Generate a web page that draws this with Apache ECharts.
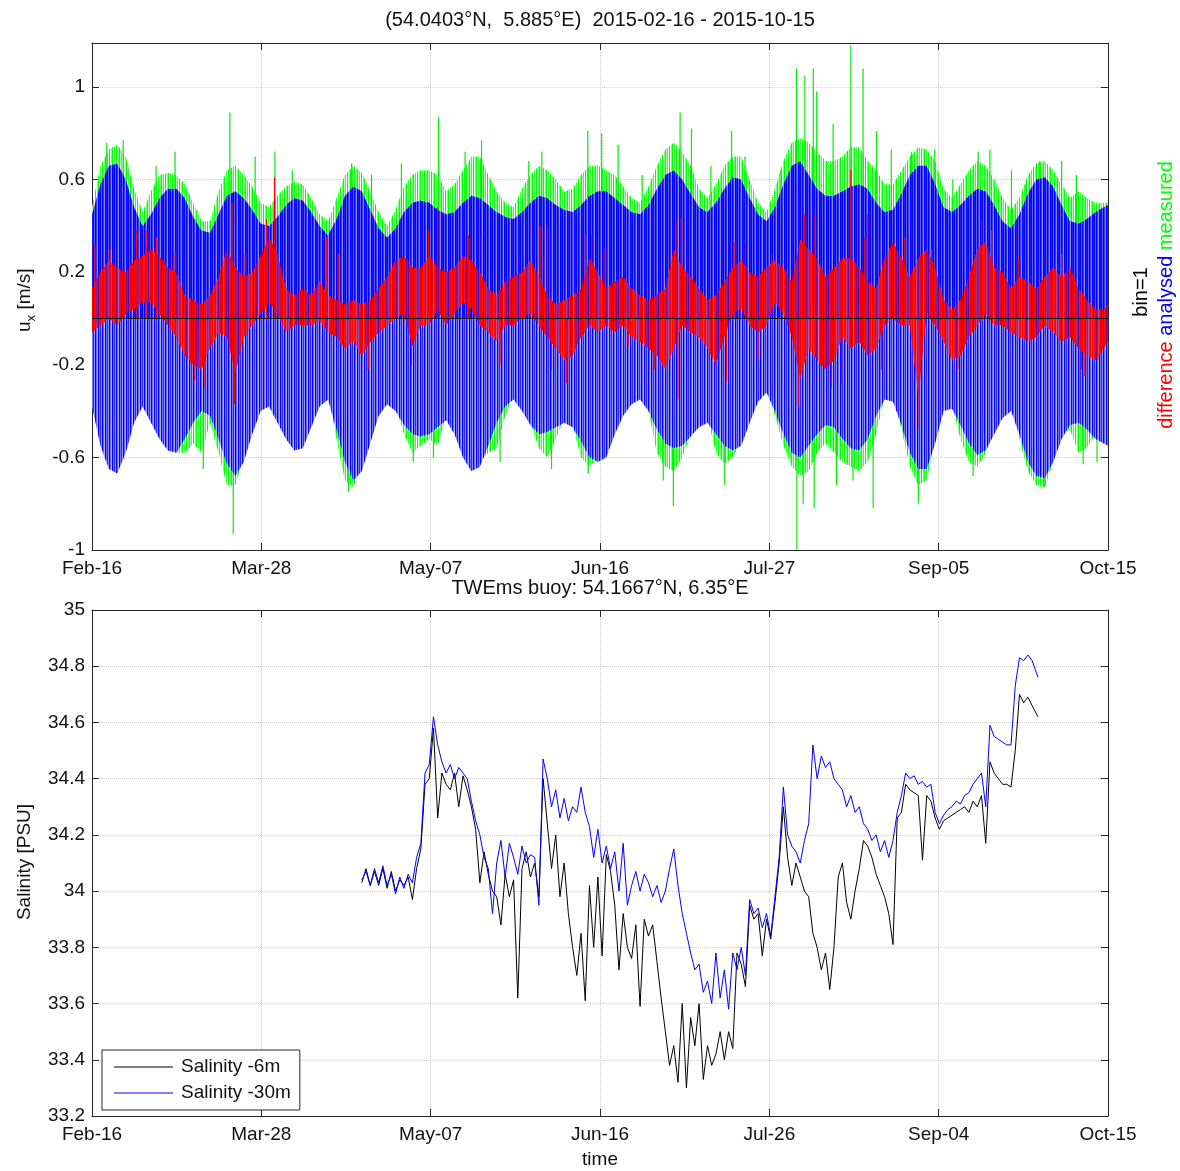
<!DOCTYPE html>
<html><head><meta charset="utf-8">
<script src="https://cdn.jsdelivr.net/npm/echarts@6/dist/echarts.min.js"></script>
<style>html,body{margin:0;padding:0;background:#fff}#c{width:1180px;height:1171px}</style>
</head><body><div id="c"></div>
<script>
// ---------- tick labels ----------
const topXLabels = ['Feb-16','Mar-28','May-07','Jun-16','Jul-27','Sep-05','Oct-15'];
const botXLabels = ['Feb-16','Mar-28','May-07','Jun-16','Jul-26','Sep-04','Oct-15'];
const uTickLabels = ['-1','-0.6','-0.2','0.2','0.6','1'];
const salTickLabels = ['33.2','33.4','33.6','33.8','34','34.2','34.4','34.6','34.8','35'];
const SPAN = 241; // days from 2015-02-16 to 2015-10-15

// ---------- top panel: envelopes of u_x (days since Feb-16) ----------
const uDays = [0,2,4,6,8,10,12,14,16,18,20,22,24,26,28,30,32,34,36,38,40,42,44,46,48,50,52,54,56,58,
60,62,64,66,68,70,72,74,76,78,80,82,84,86,88,90,92,94,96,98,100,102,104,106,108,110,112,114,116,118,
120,122,124,126,128,130,132,134,136,138,140,142,144,146,148,150,152,154,156,158,160,162,164,166,168,170,172,174,176,178,
180,182,184,186,188,190,192,194,196,198,200,202,204,206,208,210,212,214,216,218,220,222,224,226,228,230,232,234,236,238,240,241];
const analysedUpper = [0.45,0.58,0.66,0.67,0.60,0.48,0.40,0.45,0.52,0.56,
0.56,0.52,0.44,0.38,0.37,0.45,0.53,0.55,0.52,0.47,
0.41,0.40,0.44,0.49,0.52,0.51,0.46,0.40,0.36,0.43,
0.53,0.57,0.55,0.47,0.39,0.35,0.39,0.46,0.50,0.51,
0.50,0.47,0.45,0.46,0.50,0.53,0.52,0.49,0.46,0.44,
0.43,0.46,0.50,0.53,0.52,0.49,0.47,0.46,0.49,0.53,
0.55,0.55,0.52,0.49,0.46,0.45,0.49,0.56,0.62,0.64,
0.60,0.54,0.48,0.46,0.50,0.56,0.61,0.60,0.52,0.45,
0.42,0.48,0.58,0.66,0.68,0.62,0.56,0.53,0.53,0.55,
0.57,0.58,0.56,0.50,0.46,0.47,0.54,0.62,0.66,0.66,
0.58,0.48,0.46,0.49,0.53,0.56,0.55,0.49,0.42,0.39,
0.45,0.54,0.60,0.61,0.57,0.49,0.42,0.41,0.43,0.46,
0.48,0.49];
const analysedLower = [-0.38,-0.55,-0.65,-0.67,-0.58,-0.45,-0.38,-0.45,-0.52,-0.57,
-0.58,-0.52,-0.45,-0.40,-0.42,-0.52,-0.63,-0.68,-0.62,-0.50,
-0.40,-0.38,-0.45,-0.52,-0.57,-0.56,-0.47,-0.38,-0.35,-0.48,
-0.62,-0.70,-0.66,-0.54,-0.42,-0.37,-0.40,-0.46,-0.50,-0.51,
-0.50,-0.47,-0.44,-0.50,-0.60,-0.66,-0.64,-0.55,-0.45,-0.38,
-0.35,-0.40,-0.46,-0.50,-0.49,-0.47,-0.45,-0.47,-0.53,-0.60,
-0.62,-0.60,-0.50,-0.42,-0.37,-0.35,-0.40,-0.48,-0.54,-0.56,
-0.55,-0.51,-0.47,-0.45,-0.50,-0.55,-0.57,-0.55,-0.45,-0.36,
-0.32,-0.40,-0.50,-0.58,-0.60,-0.55,-0.50,-0.46,-0.47,-0.52,
-0.56,-0.57,-0.52,-0.42,-0.35,-0.36,-0.46,-0.58,-0.65,-0.65,
-0.54,-0.40,-0.39,-0.46,-0.54,-0.59,-0.57,-0.50,-0.43,-0.40,
-0.50,-0.62,-0.68,-0.69,-0.62,-0.52,-0.46,-0.45,-0.48,-0.52,
-0.54,-0.55];
const measuredUpper = [0.48,0.66,0.73,0.75,0.70,0.56,0.46,0.55,0.62,0.63,
0.62,0.58,0.50,0.42,0.42,0.55,0.64,0.66,0.62,0.57,
0.50,0.48,0.53,0.57,0.59,0.58,0.52,0.45,0.42,0.52,
0.62,0.66,0.63,0.55,0.46,0.40,0.47,0.57,0.62,0.64,
0.64,0.62,0.55,0.58,0.64,0.70,0.70,0.62,0.55,0.50,
0.48,0.56,0.62,0.66,0.64,0.60,0.55,0.56,0.62,0.66,
0.66,0.64,0.62,0.57,0.52,0.50,0.57,0.66,0.73,0.76,
0.72,0.66,0.56,0.52,0.58,0.66,0.70,0.70,0.60,0.50,
0.46,0.56,0.68,0.76,0.78,0.76,0.72,0.68,0.68,0.70,
0.74,0.74,0.68,0.64,0.58,0.58,0.64,0.70,0.74,0.73,
0.68,0.56,0.52,0.58,0.64,0.68,0.66,0.60,0.52,0.47,
0.52,0.62,0.67,0.68,0.64,0.58,0.52,0.55,0.52,0.50,
0.50,0.50];
const measuredLower = [-0.32,-0.50,-0.60,-0.62,-0.55,-0.42,-0.35,-0.43,-0.50,-0.55,
-0.58,-0.58,-0.54,-0.58,-0.45,-0.58,-0.72,-0.72,-0.60,-0.48,
-0.37,-0.35,-0.42,-0.50,-0.54,-0.53,-0.44,-0.35,-0.33,-0.52,
-0.70,-0.73,-0.62,-0.50,-0.39,-0.34,-0.38,-0.50,-0.58,-0.55,
-0.52,-0.55,-0.42,-0.48,-0.57,-0.63,-0.62,-0.58,-0.56,-0.42,
-0.33,-0.38,-0.45,-0.56,-0.60,-0.52,-0.43,-0.46,-0.60,-0.64,
-0.60,-0.58,-0.48,-0.40,-0.35,-0.33,-0.40,-0.58,-0.64,-0.66,
-0.60,-0.50,-0.45,-0.43,-0.58,-0.63,-0.60,-0.53,-0.43,-0.34,
-0.30,-0.42,-0.55,-0.64,-0.68,-0.66,-0.58,-0.54,-0.58,-0.62,
-0.64,-0.66,-0.62,-0.50,-0.34,-0.34,-0.48,-0.64,-0.72,-0.70,
-0.52,-0.38,-0.37,-0.52,-0.62,-0.64,-0.58,-0.48,-0.41,-0.38,
-0.52,-0.66,-0.72,-0.73,-0.62,-0.50,-0.48,-0.58,-0.56,-0.50,
-0.52,-0.52];
const differenceUpper = [0.13,0.20,0.25,0.22,0.20,0.25,0.27,0.30,0.27,0.22,
0.20,0.10,0.08,0.06,0.10,0.18,0.30,0.22,0.18,0.20,
0.27,0.35,0.28,0.13,0.10,0.13,0.10,0.16,0.10,0.08,
0.06,0.08,0.06,0.08,0.13,0.18,0.25,0.27,0.22,0.22,
0.27,0.22,0.20,0.22,0.27,0.25,0.20,0.13,0.10,0.16,
0.18,0.20,0.25,0.18,0.10,0.06,0.08,0.10,0.13,0.26,
0.20,0.13,0.16,0.18,0.13,0.10,0.08,0.10,0.13,0.30,
0.22,0.18,0.13,0.08,0.10,0.16,0.22,0.25,0.20,0.18,
0.22,0.25,0.22,0.16,0.34,0.30,0.26,0.18,0.22,0.26,
0.26,0.22,0.16,0.13,0.26,0.33,0.26,0.18,0.26,0.30,
0.22,0.08,0.04,0.08,0.18,0.30,0.33,0.22,0.20,0.13,
0.18,0.16,0.13,0.18,0.22,0.18,0.22,0.13,0.08,0.04,
0.04,0.06];
const differenceLower = [-0.06,-0.03,0.00,-0.03,0.02,0.04,0.07,0.07,0.02,-0.03,
-0.08,-0.16,-0.20,-0.22,-0.13,-0.06,-0.08,-0.24,-0.08,-0.03,
0.02,0.07,0.02,-0.06,-0.03,-0.03,-0.03,-0.01,-0.06,-0.08,
-0.13,-0.10,-0.16,-0.10,-0.06,-0.03,0.00,0.02,-0.12,-0.03,
-0.03,0.04,-0.03,0.02,0.07,0.04,-0.03,-0.06,-0.10,-0.03,
-0.03,0.00,0.02,-0.03,-0.08,-0.13,-0.18,-0.16,-0.08,-0.03,
-0.06,-0.03,-0.06,-0.03,-0.08,-0.10,-0.13,-0.16,-0.22,-0.13,
-0.03,-0.06,-0.08,-0.13,-0.20,-0.08,0.02,0.04,-0.03,-0.06,
-0.03,0.07,0.02,-0.08,-0.26,-0.13,-0.18,-0.22,-0.18,-0.08,
-0.13,-0.10,-0.16,-0.13,-0.03,0.00,-0.03,-0.03,-0.34,0.02,
-0.03,-0.10,-0.18,-0.16,-0.08,-0.03,0.02,-0.03,-0.03,-0.06,
-0.08,-0.10,-0.08,-0.03,-0.06,-0.10,-0.08,-0.13,-0.16,-0.18,
-0.13,-0.10];
// isolated spikes (day, value)
const measuredSpikeDays = [3.5,7.4,15.2,19.7,26.4,32.7,33.5,38.7,43.4,47.5,60.8,61.6,66.3,73.4,76.2,81,82.2,88.5,92.4,96.8,103.6,106.7,109,117.6,117.7,120.9,124.8,
130.5,135.5,137.9,139.5,142.2,146.8,150.1,151.7,154.9,163.4,167.1,167.2,168.7,169.1,171.1,171.3,171.9,175.8,176.6,180,180.5,182.9,185.3,186.1,
189.6,194.4,196,197.5,199.9,204.2,209,210.2,213,218.1,221.5,224.8,226,230,233.5,235.1,238.4];
const measuredSpikeVals = [0.76,0.77,0.66,0.72,-0.65,0.89,-0.93,0.70,0.72,0.64,-0.75,0.67,0.62,0.67,-0.62,-0.60,0.87,0.72,0.77,-0.62,0.68,0.72,-0.65,0.81,-0.67,0.80,0.75,
0.62,-0.70,-0.81,0.89,0.82,0.66,-0.72,0.81,0.70,0.64,1.08,-1.0,-0.80,1.05,1.08,-0.82,0.98,0.84,-0.72,1.18,-0.70,1.08,-0.82,0.81,
0.73,0.72,-0.80,0.70,0.73,0.60,-0.68,0.72,0.73,0.64,0.58,0.68,-0.73,0.68,0.62,-0.63,-0.62];
const differenceSpikeDays = [0.7,4.3,10.5,13,15.3,19.7,24.4,26.8,33.2,33.8,36.3,41.4,43.3,55.6,58.4,65.5,75.8,79.8,82,89.3,92.4,96.8,106.3,108,109,112.6,117,118.5,121.7,
127.2,133.5,138.5,139,139.9,142.2,150.5,152.5,155,158,161.2,167.5,169,171.5,175.4,177.8,180,183.3,184,187.3,192.8,196.2,199.1,205.4,211,213.4,219.7,230,234.7,235.5,238.6];
const differenceSpikeVals = [0.32,0.30,0.38,0.38,0.35,0.28,-0.27,-0.30,0.50,-0.37,0.28,0.43,0.61,0.35,0.28,-0.22,-0.20,0.38,0.48,0.36,0.36,-0.20,0.40,0.40,-0.22,-0.28,0.36,0.36,0.30,
-0.12,-0.22,0.43,-0.35,0.43,0.27,-0.27,0.33,0.33,-0.18,0.28,-0.38,0.45,0.45,-0.30,-0.28,0.64,0.35,0.45,-0.22,0.35,-0.47,0.30,-0.22,0.43,0.38,0.26,0.28,-0.22,-0.25,-0.18];
const zeroLine = [[0,0],[SPAN,0]];

// ---------- bottom panel: salinity ----------
const salDays = [64,65,66,67,68,69,70,71,72,73,74,75,76,77,78,79,80,81,82,83,84,85,86,87,88,89,90,91,92,93,
94,95,96,97,98,99,100,101,102,103,104,105,106,107,108,109,110,111,112,113,114,115,116,117,118,119,120,121,122,123,
124,125,126,127,128,129,130,131,132,133,134,135,136,137,138,139,140,141,142,143,144,145,146,147,148,149,150,151,152,153,
154,155,156,157,158,159,160,161,162,163,164,165,166,167,168,169,170,171,172,173,174,175,176,177,178,179,180,181,182,183,
184,185,186,187,188,189,190,191,192,193,194,195,196,197,198,199,200,201,202,203,204,205,206,207,208,209,210,211,212,213,
214,215,216,217,218,219,220,221,222,223,224.4];
const salinity30m = [34.04,34.07,34.02,34.08,34.03,34.09,34.02,34.06,33.99,34.05,
34.01,34.06,34.03,34.12,34.17,34.42,34.45,34.62,34.52,34.46,
34.42,34.45,34.40,34.44,34.42,34.40,34.32,34.25,34.20,34.12,
34.08,33.92,34.10,34.18,34.05,34.17,34.12,34.06,34.16,34.10,
34.13,34.12,33.95,34.47,34.40,34.30,34.36,34.26,34.33,34.25,
34.30,34.28,34.37,34.28,34.23,34.12,34.22,34.10,34.16,34.08,
34.14,34.00,34.17,33.95,34.02,34.07,34.00,34.06,34.03,33.98,
34.02,33.96,34.00,34.08,34.15,34.02,33.92,33.85,33.78,33.72,
33.74,33.64,33.68,33.60,33.78,33.62,33.72,33.58,33.78,33.72,
33.80,33.70,33.97,33.92,33.94,33.87,33.92,33.84,33.98,34.12,
34.37,34.20,34.16,34.14,34.10,34.18,34.24,34.52,34.40,34.48,
34.44,34.46,34.40,34.38,34.36,34.30,34.34,34.28,34.30,34.24,
34.22,34.18,34.20,34.14,34.18,34.12,34.18,34.28,34.34,34.42,
34.40,34.41,34.38,34.39,34.37,34.38,34.28,34.24,34.27,34.29,
34.30,34.32,34.31,34.34,34.35,34.38,34.40,34.42,34.30,34.59,
34.55,34.54,34.53,34.52,34.52,34.73,34.83,34.82,34.84,34.82,
34.76];
const salinity6m = [34.03,34.08,34.02,34.07,34.02,34.08,34.01,34.07,34.00,34.04,
34.02,34.05,33.97,34.08,34.15,34.38,34.40,34.58,34.26,34.42,
34.38,34.36,34.42,34.30,34.41,34.36,34.30,34.22,34.03,34.14,
34.06,34.00,33.98,33.88,34.06,33.98,34.04,33.62,34.08,34.14,
34.05,34.10,33.98,34.40,34.24,34.08,34.20,33.98,34.10,33.92,
33.80,33.70,33.85,33.61,34.02,33.80,34.05,33.77,34.13,34.07,
33.95,33.72,33.92,33.80,33.76,33.88,33.59,33.90,33.84,33.88,
33.75,33.62,33.50,33.38,33.45,33.32,33.60,33.30,33.55,33.45,
33.60,33.33,33.45,33.38,33.42,33.50,33.40,33.50,33.44,33.78,
33.74,33.66,33.95,33.90,33.92,33.77,33.90,33.83,33.96,34.10,
34.30,34.12,34.02,34.10,34.05,34.00,33.98,33.85,33.80,33.72,
33.78,33.65,33.80,34.05,34.10,33.96,33.90,34.00,34.08,34.18,
34.16,34.12,34.06,34.02,33.98,33.92,33.81,34.26,34.28,34.38,
34.36,34.35,34.34,34.11,34.34,34.32,34.26,34.22,34.25,34.26,
34.27,34.28,34.29,34.30,34.28,34.32,34.30,34.34,34.17,34.46,
34.42,34.40,34.38,34.38,34.37,34.50,34.70,34.67,34.69,34.66,
34.62];

// ---------- styling ----------
const FONT = '"Liberation Sans", Arial, Helvetica, sans-serif';
const AX = '#262626', TXT = '#111111', GRIDC = '#cdcdcd';
function stripes(colors){
  const c = document.createElement('canvas'); c.width = colors.length; c.height = 1;
  const g = c.getContext('2d');
  colors.forEach((col,i)=>{ g.fillStyle = col; g.fillRect(i,0,1,1); });
  return { image: c, repeat: 'repeat' };
}
const blueFillTop = stripes(['#0000ff','#1a1aff','#0000ff','#5a5aff','#0000ff','#3434ff','#8a8aff']);
const blueFillBot = stripes(['#0000ff','#7070ff','#2a2aff','#9090ff','#0000ff','#6464ff','#b0b0ff']);
const greenFill = stripes(['#00ff00','#b8ffb8','#3cff3c','#ffffff','#00ff00','#e0ffe0','#7cff7c']);
const redFill = stripes(['#ff0000','rgba(255,0,0,0.55)','#ff0000','rgba(235,0,40,0.35)','#ff1010']);

function labelFmt(labels, start, step){
  return function(v){
    const i = Math.round((v - start)/step);
    if (i < 0 || i >= labels.length || Math.abs(v - (start + i*step)) > 0.02) return '';
    return labels[i];
  };
}
function xAx(grid, pos, labels){
  return { gridIndex: grid, type:'value', position: pos, min:0, max:SPAN, interval: SPAN/6,
    axisLine:{show:true, onZero:false, lineStyle:{color:AX, width:1}},
    axisTick:{show:true, inside:true, length:7, lineStyle:{color:AX}},
    axisLabel: labels ? {show:true, margin:9, color:TXT, fontSize:19, fontFamily:FONT,
      formatter: labelFmt(labels, 0, SPAN/6)} : {show:false},
    splitLine:{show: !!labels, lineStyle:{type:'dotted', color:GRIDC, width:1}} };
}
function yAx(grid, pos, min, max, step, labels){
  return { gridIndex: grid, type:'value', position: pos, min, max, interval: step,
    axisLine:{show:true, onZero:false, lineStyle:{color:AX, width:1}},
    axisTick:{show:true, inside:true, length:7, lineStyle:{color:AX}},
    axisLabel: labels ? {show:true, margin:7, color:TXT, fontSize:19, fontFamily:FONT,
      showMaxLabel: labels.length*step - step + min >= max - 1e-9,
      formatter: labelFmt(labels, min, step)} : {show:false},
    splitLine:{show: !!labels, lineStyle:{type:'dotted', color:GRIDC, width:1}} };
}
// filled band between an upper and a lower bound (lower may be a constant)
function band(days, up, lo, fill, z){
  const low = i => (typeof lo === 'number' ? lo : lo[i]);
  return { type:'custom', xAxisIndex:0, yAxisIndex:0, z, silent:true, clip:true,
    data:[[days[0], up[0]]],
    renderItem: function(params, api){
      const pts = [];
      for (let i=0;i<days.length;i++) pts.push(api.coord([days[i], up[i]]));
      for (let i=days.length-1;i>=0;i--) pts.push(api.coord([days[i], low(i)]));
      return { type:'polygon', shape:{points:pts}, style:{fill: fill} };
    } };
}
function spikes(days, vals, color, width, z){
  return { type:'custom', xAxisIndex:0, yAxisIndex:0, z, silent:true, clip:true,
    data: days.map((d,i)=>[d, vals[i]]),
    renderItem: function(params, api){
      const a = api.coord([api.value(0), 0]);
      const b = api.coord([api.value(0), api.value(1)]);
      return { type:'line', shape:{x1:a[0], y1:a[1], x2:b[0], y2:b[1]}, style:{stroke:color, lineWidth:width} };
    } };
}

const chart = echarts.init(document.getElementById('c'), null, {renderer:'canvas'});
chart.setOption({
  animation:false,
  backgroundColor:'#ffffff',
  grid:[ {left:92, right:72, top:43, height:507}, {left:92, right:72, top:610, height:506} ],
  xAxis:[ xAx(0,'bottom',topXLabels), xAx(0,'top',null), xAx(1,'bottom',botXLabels), xAx(1,'top',null) ],
  yAxis:[ yAx(0,'left',-1,1.19,0.4,uTickLabels), yAx(0,'right',-1,1.19,0.4,null),
          yAx(1,'left',33.2,35,0.2,salTickLabels), yAx(1,'right',33.2,35,0.2,null) ],
  legend:{ data:['Salinity -6m','Salinity -30m'], left:102, top:1050, orient:'vertical',
    icon:'rect', itemWidth:59, itemHeight:1, itemGap:4, selectedMode:false,
    padding:[6,9,6,12], backgroundColor:'#ffffff', borderColor:AX, borderWidth:1, borderRadius:0,
    textStyle:{fontSize:19, fontFamily:FONT, color:TXT, lineHeight:22, padding:[0,0,0,3]} },
  series:[
    band(uDays, measuredUpper, measuredLower, greenFill, 1),
    spikes(measuredSpikeDays, measuredSpikeVals, '#00ee00', 1.2, 2),
    band(uDays, analysedUpper, 0, blueFillTop, 3),
    band(uDays, analysedLower, 0, blueFillBot, 3),
    band(uDays, differenceUpper, differenceLower, redFill, 4),
    spikes(differenceSpikeDays, differenceSpikeVals, '#ff0000', 1.2, 5),
    { type:'line', xAxisIndex:0, yAxisIndex:0, z:6, silent:true, data: zeroLine, symbol:'none',
      lineStyle:{color:'#000000', width:1} },
    { name:'Salinity -6m', type:'line', xAxisIndex:2, yAxisIndex:2, z:3, symbol:'none', showSymbol:false,
      data: salDays.map((d,i)=>[d, salinity6m[i]]), lineStyle:{color:'#000000', width:1}, itemStyle:{color:'#000000'} },
    { name:'Salinity -30m', type:'line', xAxisIndex:2, yAxisIndex:2, z:4, symbol:'none', showSymbol:false,
      data: salDays.map((d,i)=>[d, salinity30m[i]]), lineStyle:{color:'#0000ff', width:1}, itemStyle:{color:'#0000ff'} }
  ],
  graphic:[
    {type:'text', x:600, y:20, style:{text:'(54.0403°N,  5.885°E)  2015-02-16 - 2015-10-15', fill:TXT, font:'20px '+FONT, align:'center', verticalAlign:'middle'}},
    {type:'text', x:600, y:588, style:{text:'TWEms buoy: 54.1667°N, 6.35°E', fill:TXT, font:'20px '+FONT, align:'center', verticalAlign:'middle'}},
    {type:'text', x:600, y:1160, style:{text:'time', fill:TXT, font:'19px '+FONT, align:'center', verticalAlign:'middle'}},
    {type:'text', x:25, y:862, rotation:Math.PI/2, style:{text:'Salinity [PSU]', fill:TXT, font:'19px '+FONT, align:'center', verticalAlign:'middle'}},
    {type:'group', x:25, y:300, rotation:Math.PI/2, children:[
      {type:'text', x:-32, y:0, style:{text:'u', fill:TXT, font:'19px '+FONT, align:'left', verticalAlign:'middle'}},
      {type:'text', x:-21.4, y:6, style:{text:'x', fill:TXT, font:'13px '+FONT, align:'left', verticalAlign:'middle'}},
      {type:'text', x:-14.9, y:0, style:{text:' [m/s]', fill:TXT, font:'19px '+FONT, align:'left', verticalAlign:'middle'}}
    ]},
    {type:'text', x:1141, y:292, rotation:Math.PI/2, style:{text:'bin=1', fill:'#000000', font:'20px '+FONT, align:'center', verticalAlign:'middle'}},
    {type:'text', x:1166, y:295, rotation:Math.PI/2, style:{
      text:'{r|difference} {b|analysed} {g|measured}', font:'20px '+FONT, align:'center', verticalAlign:'middle',
      rich:{ r:{fill:'#ff0000', fontSize:20, fontFamily:FONT}, b:{fill:'#0000ff', fontSize:20, fontFamily:FONT}, g:{fill:'#00ff00', fontSize:20, fontFamily:FONT} } }}
  ]
});
</script></body></html>
